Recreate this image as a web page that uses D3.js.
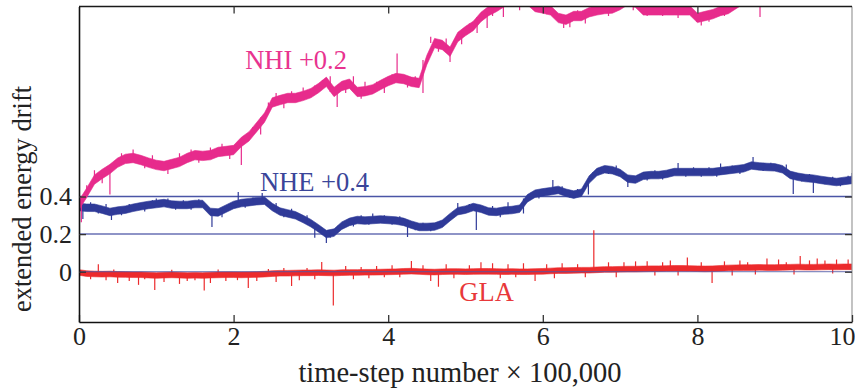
<!DOCTYPE html>
<html>
<head>
<meta charset="utf-8">
<script src="https://cdn.jsdelivr.net/npm/d3@7"></script>
<style>
  body { margin: 0; background: #fff; }
  svg { display: block; }
  text { font-family: "Liberation Serif", "Times New Roman", serif; }
</style>
</head>
<body>
<svg id="chart" width="855" height="390"></svg>
<script>
// sample times, x 100,000 steps
var times = d3.range(0, 101).map(function (i) { return i / 10; });

// plotted drift values (offsets already included: NHI +0.2, NHE +0.4)
var nhi = [0.355,0.42,0.49,0.52,0.546,0.58,0.60,0.605,0.594,0.58,
  0.568,0.562,0.573,0.584,0.605,0.62,0.616,0.62,0.637,0.642,
  0.647,0.69,0.72,0.77,0.82,0.90,0.913,0.924,0.924,0.935,
  0.95,0.977,1.01,0.956,0.988,1.0,0.956,0.96,0.97,0.993,
  1.014,1.03,1.025,1.01,1.004,1.126,1.216,1.206,1.17,1.248,
  1.28,1.307,1.355,1.387,1.408,1.434,1.456,1.456,1.445,1.408,
  1.40,1.39,1.35,1.34,1.36,1.36,1.38,1.39,1.397,1.40,
  1.418,1.445,1.43,1.39,1.39,1.39,1.39,1.39,1.39,1.39,
  1.35,1.36,1.37,1.387,1.397,1.424,1.45,1.47,1.48,1.47,
  1.48,1.49,1.47,1.48,1.49,1.5,1.49,1.48,1.5,1.5,1.5];

var nhe = [0.344,0.34,0.34,0.33,0.318,0.325,0.33,0.34,0.348,0.355,
  0.36,0.365,0.357,0.355,0.355,0.36,0.36,0.318,0.315,0.335,
  0.355,0.365,0.37,0.375,0.378,0.344,0.32,0.31,0.30,0.28,
  0.258,0.23,0.20,0.208,0.245,0.265,0.275,0.272,0.275,0.278,
  0.275,0.272,0.265,0.25,0.238,0.238,0.24,0.255,0.29,0.322,
  0.33,0.344,0.335,0.32,0.318,0.325,0.328,0.335,0.39,0.415,
  0.422,0.428,0.435,0.42,0.41,0.42,0.49,0.53,0.545,0.54,
  0.525,0.495,0.49,0.51,0.514,0.514,0.52,0.53,0.53,0.53,
  0.53,0.53,0.53,0.535,0.54,0.545,0.55,0.565,0.56,0.557,
  0.555,0.545,0.515,0.505,0.498,0.495,0.488,0.482,0.477,0.483,0.488];

var gla = [-0.004,-0.01,-0.012,-0.013,-0.012,-0.014,-0.015,-0.016,-0.016,-0.018,
  -0.02,-0.018,-0.017,-0.018,-0.02,-0.019,-0.02,-0.018,-0.017,-0.016,
  -0.016,-0.017,-0.016,-0.015,-0.013,-0.01,-0.008,-0.008,-0.007,-0.006,
  -0.006,-0.005,-0.006,-0.007,-0.005,-0.004,-0.004,-0.003,-0.003,-0.002,
  -0.001,0.0,0.002,0.003,0.001,-0.001,-0.002,0.0,0.001,0.001,
  0.0,0.001,0.002,0.002,0.001,0.0,0.001,0.0,0.0,0.001,
  0.002,0.004,0.006,0.006,0.007,0.008,0.008,0.01,0.012,0.012,
  0.013,0.014,0.014,0.015,0.016,0.016,0.017,0.018,0.018,0.017,
  0.016,0.015,0.016,0.018,0.02,0.021,0.022,0.022,0.023,0.022,
  0.022,0.023,0.024,0.025,0.024,0.024,0.025,0.026,0.025,0.026,0.026];

// single-sample excursions [time, value]
var nhiSpikes = [[0.03,0.263],[0.1,0.46],[0.2,0.54],[0.3,0.47],[0.4,0.41],[0.55,0.63],
  [0.7,0.65],[0.85,0.55],[0.95,0.62],[1.15,0.52],[1.3,0.63],[1.45,0.65],[1.55,0.58],
  [1.7,0.66],[1.85,0.68],[1.95,0.60],[2.1,0.567],[2.25,0.76],[2.35,0.73],[2.45,0.86],
  [2.55,0.95],[2.65,0.87],[2.75,0.96],[2.9,0.98],[3.05,0.99],[3.15,1.02],[3.25,1.04],
  [3.34,0.876],[3.45,0.95],[3.55,1.04],[3.65,0.92],[3.7,1.01],[3.85,1.01],[3.95,0.95],
  [4.05,1.05],[4.115,1.16],[4.25,0.98],[4.35,1.04],[4.45,0.95],[4.55,1.25],[4.65,1.17],
  [4.75,1.24],[4.8,1.116],[4.95,1.21],[5.05,1.32],[5.15,1.27],[5.28,1.296],[5.35,1.36],
  [5.49,1.355],[5.7,1.39],[6.05,1.37],[6.27,1.296],[6.35,1.30],[6.45,1.39],[6.55,1.32],
  [6.85,1.36],[7.17,1.39],[7.35,1.36],[7.55,1.36],[7.75,1.35],[7.99,1.33],[8.05,1.31],
  [8.15,1.33],[8.35,1.36],[8.81,1.355]];
var nheSpikes = [[0.05,0.28],[0.15,0.37],[0.25,0.31],[0.35,0.36],[0.42,0.275],[0.55,0.30],
  [0.65,0.36],[0.85,0.32],[0.95,0.38],[1.0,0.39],[1.15,0.39],[1.25,0.33],[1.35,0.38],
  [1.45,0.33],[1.55,0.385],[1.72,0.238],[1.85,0.29],[1.95,0.36],[2.06,0.424],[2.15,0.34],
  [2.25,0.395],[2.37,0.418],[2.45,0.35],[2.55,0.365],[2.65,0.29],[2.75,0.335],[2.85,0.27],
  [2.95,0.30],[3.05,0.18],[3.2,0.153],[3.25,0.18],[3.35,0.23],[3.45,0.27],[3.55,0.24],
  [3.65,0.30],[3.75,0.25],[3.8,0.31],[3.95,0.30],[4.05,0.25],[4.15,0.295],[4.25,0.185],
  [4.35,0.22],[4.45,0.26],[4.55,0.215],[4.65,0.265],[4.85,0.32],[4.9,0.365],[5.05,0.36],
  [5.14,0.222],[5.25,0.31],[5.35,0.35],[5.45,0.29],[5.55,0.37],[5.65,0.35],[5.75,0.31],
  [5.85,0.42],[5.95,0.39],[6.05,0.445],[6.13,0.488],[6.25,0.455],[6.35,0.395],[6.45,0.44],
  [6.59,0.41],[6.65,0.51],[6.75,0.555],[6.85,0.52],[6.95,0.565],[7.05,0.50],[7.1,0.45],
  [7.25,0.51],[7.35,0.485],[7.45,0.54],[7.55,0.49],[7.65,0.545],[7.75,0.578],[7.85,0.505],
  [7.95,0.555],[8.05,0.505],[8.15,0.555],[8.25,0.505],[8.3,0.575],[8.45,0.565],[8.55,0.52],
  [8.65,0.575],[8.72,0.61],[8.85,0.535],[8.95,0.58],[9.05,0.53],[9.15,0.57],[9.24,0.413],
  [9.35,0.48],[9.45,0.52],[9.5,0.418],[9.65,0.465],[9.75,0.505],[9.85,0.455],[9.95,0.51],
  [10.0,0.525]];
var glaSpikes = [[0.0,0.05],[0.15,-0.04],[0.25,0.04],[0.35,-0.045],[0.45,0.012],[0.5,-0.06],
  [0.65,-0.05],[0.77,-0.07],[0.85,-0.04],[0.98,-0.097],[1.1,-0.055],[1.2,0.01],[1.3,-0.065],
  [1.4,-0.05],[1.5,-0.045],[1.62,-0.10],[1.7,-0.06],[1.8,0.012],[1.9,-0.05],[2.05,-0.045],
  [2.19,-0.087],[2.3,-0.05],[2.45,0.015],[2.55,-0.055],[2.65,0.02],[2.75,-0.076],[2.85,-0.045],
  [2.95,0.02],[3.05,-0.04],[3.14,0.052],[3.29,-0.18],[3.45,0.03],[3.55,-0.04],[3.65,0.025],
  [3.75,-0.035],[3.85,0.03],[3.95,-0.03],[4.05,0.035],[4.15,-0.03],[4.3,0.057],[4.45,0.035],
  [4.55,-0.05],[4.65,-0.08],[4.75,0.04],[4.85,-0.035],[5.05,0.035],[5.2,0.05],[5.35,0.045],
  [5.45,-0.035],[5.55,0.04],[5.65,-0.03],[5.75,0.045],[5.9,-0.05],[6.05,0.04],[6.15,-0.035],
  [6.25,0.045],[6.45,0.04],[6.55,-0.03],[6.66,0.22],[6.85,0.05],[6.95,-0.03],[7.05,0.05],
  [7.2,0.055],[7.35,0.055],[7.45,-0.02],[7.55,0.05],[7.65,0.06],[7.75,-0.02],[7.87,0.075],
  [8.05,0.05],[8.19,-0.06],[8.35,0.055],[8.45,-0.02],[8.55,0.06],[8.65,0.05],[8.75,-0.015],
  [8.9,0.07],[9.05,0.065],[9.15,0.05],[9.25,-0.015],[9.33,0.083],[9.45,0.06],[9.55,0.07],
  [9.65,0.06],[9.75,-0.01],[9.8,0.065],[9.95,0.065]];

var xTicks = [0, 2, 4, 6, 8, 10];
var yTicks = [0, 0.2, 0.4];

var series = [
  { name: "NHE +0.4", values: nhe, spikes: nheSpikes, hw: 0.02, color: "#2f3a98", labelColor: "#3a4599", labelAt: [2.34, 0.431] },
  { name: "NHI +0.2", values: nhi, spikes: nhiSpikes, hw: 0.025, color: "#e72b8c", labelColor: "#e8338f", labelAt: [2.15, 1.078] },
  { name: "GLA", values: gla, spikes: glaSpikes, hw: 0.015, color: "#ec2a2c", labelColor: "#e8383a", labelAt: [4.92, -0.154] }
];

var svg = d3.select("#chart");
var mLeft = 79, mRight = 852, mTop = 6.5, mBottom = 322;

var x = d3.scaleLinear().domain([0, 10]).range([mLeft, mRight]);
var y = d3.scaleLinear().domain([-0.2675, 1.4106]).range([mBottom, mTop]);

svg.append("defs").append("clipPath").attr("id", "plot")
  .append("rect")
  .attr("x", mLeft).attr("y", mTop)
  .attr("width", mRight - mLeft).attr("height", mBottom - mTop);

// reference lines at the offsets
svg.append("line")
  .attr("x1", mLeft).attr("x2", mRight)
  .attr("y1", y(0.2)).attr("y2", y(0.2))
  .attr("stroke", "#8e94c7").attr("stroke-width", 2);
svg.append("line")
  .attr("x1", mLeft).attr("x2", mRight)
  .attr("y1", y(0.4)).attr("y2", y(0.4))
  .attr("stroke", "#4a55a6").attr("stroke-width", 1.3);

var plot = svg.append("g").attr("clip-path", "url(#plot)");

series.forEach(function (s) {
  var band = d3.area()
    .x(function (d, i) { return x(times[i]); })
    .y0(function (d) { return y(d - s.hw); })
    .y1(function (d) { return y(d + s.hw); });

  plot.append("path")
    .attr("d", band(s.values))
    .attr("fill", s.color)
    .attr("stroke", s.color)
    .attr("stroke-width", 0.6);

  plot.append("g").selectAll("line")
    .data(s.spikes)
    .enter().append("line")
    .attr("x1", function (d) { return x(d[0]); })
    .attr("x2", function (d) { return x(d[0]); })
    .attr("y1", function (d) { return y(s.values[Math.round(d[0] * 10)]); })
    .attr("y2", function (d) { return y(d[1]); })
    .attr("stroke", s.color)
    .attr("stroke-width", 1.2);

  svg.append("text")
    .attr("x", x(s.labelAt[0]))
    .attr("y", y(s.labelAt[1]))
    .attr("fill", s.labelColor)
    .attr("font-size", 26.5)
    .text(s.name);
});

// zero line sits on top of the GLA trace
svg.append("line")
  .attr("x1", mLeft).attr("x2", mRight)
  .attr("y1", y(0)).attr("y2", y(0))
  .attr("stroke", "#4f58a6").attr("stroke-width", 1).attr("opacity", 0.85);

// frame
svg.append("line")
  .attr("x1", mRight).attr("x2", mRight).attr("y1", mTop).attr("y2", mBottom)
  .attr("stroke", "#9a9a9a").attr("stroke-width", 1.2);
svg.append("line")
  .attr("x1", mLeft).attr("x2", mRight).attr("y1", mTop).attr("y2", mTop)
  .attr("stroke", "#1a1a1a").attr("stroke-width", 1.4);

var xAxis = svg.append("g")
  .attr("transform", "translate(0," + mBottom + ")")
  .call(d3.axisBottom(x).tickValues(xTicks).tickFormat(d3.format("d"))
    .tickSizeInner(-7).tickSizeOuter(0).tickPadding(5));

svg.append("g")
  .attr("transform", "translate(0," + mTop + ")")
  .call(d3.axisTop(x).tickValues(xTicks.slice(1, -1))
    .tickSizeInner(-7).tickSizeOuter(0).tickFormat(""))
  .select(".domain").remove();

var yAxis = svg.append("g")
  .attr("transform", "translate(" + mLeft + ",0)")
  .call(d3.axisLeft(y).tickValues(yTicks).tickFormat(function (d) { return d === 0 ? "0" : d3.format(".1f")(d); })
    .tickSizeInner(-7).tickSizeOuter(0).tickPadding(7));

svg.append("g")
  .attr("transform", "translate(" + mRight + ",0)")
  .call(d3.axisRight(y).tickValues(yTicks)
    .tickSizeInner(-7).tickSizeOuter(0).tickFormat(""))
  .select(".domain").remove();

[xAxis, yAxis].forEach(function (a) {
  a.select(".domain").attr("stroke", "#111").attr("stroke-width", 1.6);
  a.selectAll(".tick text").attr("font-size", 26).attr("fill", "#222")
    .attr("font-family", "Liberation Serif, Times New Roman, serif");
});
// keep the last x label inside the picture
xAxis.selectAll(".tick text").filter(function (d) { return d === 10; })
  .attr("text-anchor", "end").attr("x", 3);
svg.selectAll(".tick line").attr("stroke", "#333").attr("stroke-width", 1.3);

svg.append("text")
  .attr("x", 460)
  .attr("y", 382)
  .attr("text-anchor", "middle")
  .attr("font-size", 28.5)
  .attr("fill", "#222")
  .text("time-step number \u00d7 100,000");

svg.append("text")
  .attr("transform", "translate(31,199) rotate(-90)")
  .attr("text-anchor", "middle")
  .attr("font-size", 26.5)
  .attr("fill", "#222")
  .text("extended energy drift");
</script>
</body>
</html>
